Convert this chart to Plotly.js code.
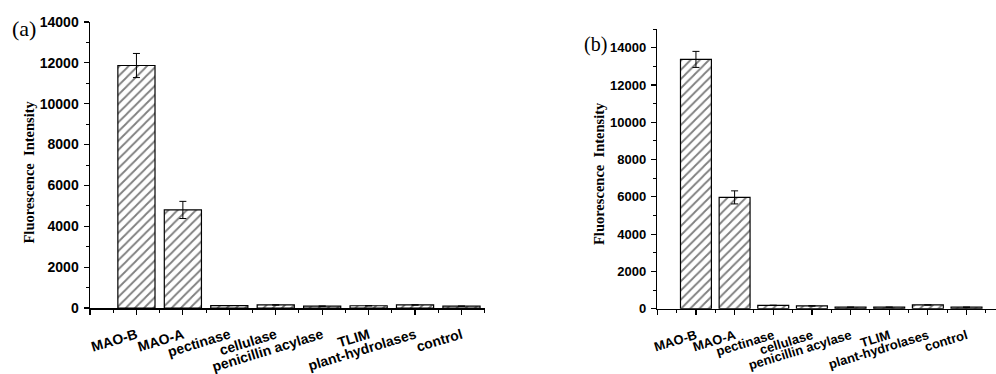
<!DOCTYPE html>
<html>
<head>
<meta charset="utf-8">
<script src="https://cdn.plot.ly/plotly-3.0.1.min.js"></script>
<style>html,body{margin:0;padding:0;background:#fff;}#chart{width:996px;height:374px;}</style>
</head>
<body>
<div id="chart"></div>
<script>
const categories = ["MAO-B", "MAO-A", "pectinase", "cellulase", "penicillin acylase", "TLIM", "plant-hydrolases", "control"];
const valuesA = [11870, 4800, 120, 150, 90, 110, 150, 90];
const errorsA = [590, 420, 0, 0, 0, 0, 0, 0];
const valuesB = [13370, 5970, 180, 150, 80, 80, 200, 80];
const errorsB = [430, 350, 0, 0, 0, 0, 0, 0];
const yTicksA = [0, 2000, 4000, 6000, 8000, 10000, 12000, 14000];
const yTicksB = [0, 2000, 4000, 6000, 8000, 10000, 12000, 14000];
const yTitle = "Fluorescence  Intensity";

const W = 996, H = 374;
const idx = categories.map((c, i) => i);
const tickIdx = [-1].concat(idx);
const tickTxt = [""].concat(categories.map(c => "<b>" + c + "</b>"));

function barTrace(vals, errs, xa, ya) {
  return {
    type: "bar", x: idx, y: vals, xaxis: xa, yaxis: ya, width: 0.8,
    marker: {
      color: "white",
      line: {color: "black", width: 1.2},
      pattern: {shape: "/", fgcolor: "black", bgcolor: "white", size: 6.5, solidity: 0.28, fillmode: "overlay"}
    },
    error_y: {type: "data", array: errs, visible: true, color: "black", thickness: 1, width: 3.5},
    showlegend: false, hoverinfo: "skip"
  };
}

function xAxis(domain, range, fs, standoff) {
  return {
    domain: domain, range: range, type: "linear",
    tickmode: "array", tickvals: tickIdx, ticktext: tickTxt,
    tickangle: -17, ticks: "outside", ticklen: 5, tickwidth: 1.2, tickcolor: "black",
    ticklabelstandoff: standoff, ticklabeloverflow: "allow",
    minor: {tickmode: "linear", tick0: -1, dtick: 0.5, ticks: "outside", ticklen: 3, tickwidth: 1, tickcolor: "black"},
    showline: true, linecolor: "black", linewidth: 1.5, showgrid: false, zeroline: false,
    tickfont: {family: "Liberation Sans, Arial, sans-serif", size: fs, color: "black"},
    fixedrange: true
  };
}
function yAxis(domain, range, ticks, fs, anchor) {
  return {
    domain: domain, range: range, anchor: anchor,
    tickmode: "array", tickvals: ticks, ticktext: ticks.map(t => "<b>" + t + "</b>"),
    ticks: "outside", ticklen: 5, tickwidth: 1.2, tickcolor: "black",
    ticklabelstandoff: 2,
    minor: {tickmode: "linear", tick0: 0, dtick: 1000, ticks: "outside", ticklen: 3, tickwidth: 1, tickcolor: "black"},
    showline: true, linecolor: "black", linewidth: 1.5, showgrid: false, zeroline: false,
    tickfont: {family: "Liberation Sans, Arial, sans-serif", size: fs, color: "black"},
    fixedrange: true
  };
}

const data = [
  barTrace(valuesA, errorsA, "x", "y"),
  barTrace(valuesB, errorsB, "x2", "y2")
];

const serif = "Liberation Serif, Times New Roman, serif";
const layout = {
  width: W, height: H,
  margin: {l: 0, r: 0, t: 0, b: 0},
  paper_bgcolor: "white", plot_bgcolor: "white",
  bargap: 0.2,
  xaxis: Object.assign(xAxis([90 / W, 484.7 / W], [-1, 7.5], 14, 7), {anchor: "y"}),
  yaxis: yAxis([(H - 308) / H, (H - 22) / H], [0, 14000], yTicksA, 14, "x"),
  xaxis2: Object.assign(xAxis([657.3 / W, 995.5 / W], [-1, 7.75], 13, 8), {anchor: "y2"}),
  yaxis2: yAxis([(H - 308.7) / H, (H - 29) / H], [0, 15000], yTicksB, 13, "x2"),
  annotations: [
    {text: "(a)", xref: "paper", yref: "paper", x: 23.5 / W, y: 1 - 29 / H, showarrow: false,
     xanchor: "center", yanchor: "middle", font: {family: serif, size: 22, color: "black"}},
    {text: "(b)", xref: "paper", yref: "paper", x: 595 / W, y: 1 - 44 / H, showarrow: false,
     xanchor: "center", yanchor: "middle", font: {family: serif, size: 20, color: "black"}},
    {text: "<b>" + yTitle + "</b>", xref: "paper", yref: "paper", x: 28.5 / W, y: 1 - 172 / H, showarrow: false, textangle: -90,
     xanchor: "center", yanchor: "middle", font: {family: serif, size: 14.5, color: "black"}},
    {text: "<b>" + yTitle + "</b>", xref: "paper", yref: "paper", x: 599 / W, y: 1 - 174 / H, showarrow: false, textangle: -90,
     xanchor: "center", yanchor: "middle", font: {family: serif, size: 14.5, color: "black"}}
  ]
};

Plotly.newPlot("chart", data, layout, {staticPlot: true, displayModeBar: false});
</script>
</body>
</html>
